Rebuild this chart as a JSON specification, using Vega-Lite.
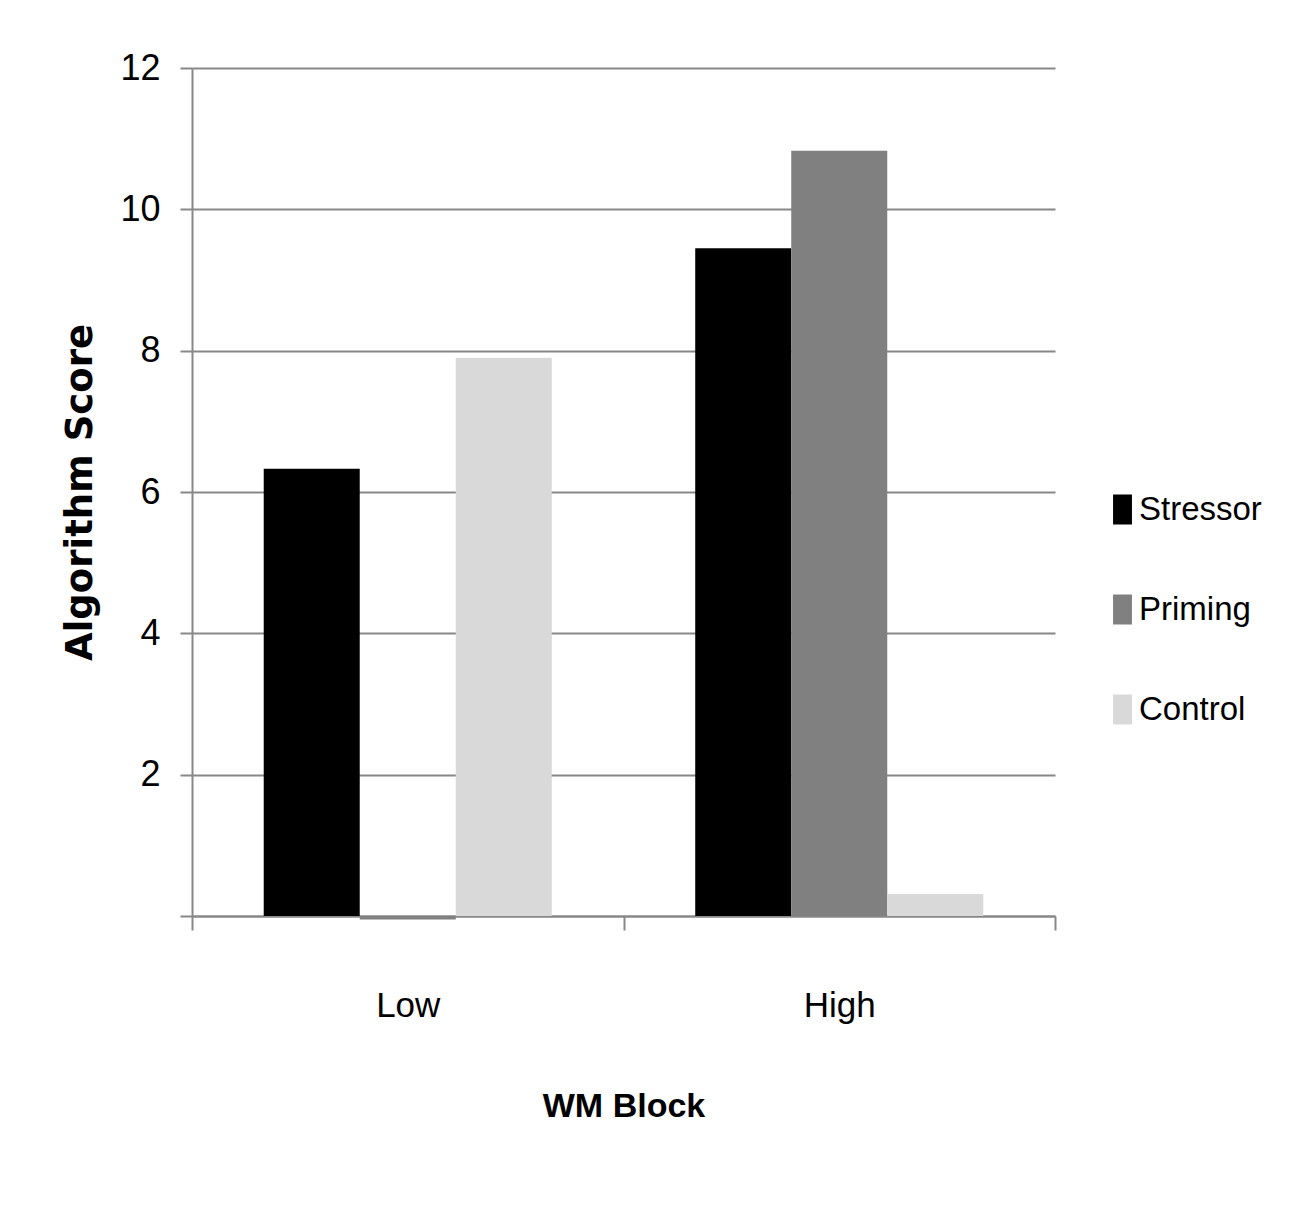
{
  "$schema": "https://vega.github.io/schema/vega-lite/v6.json",
  "autosize": {"type": "none"},
  "padding": {"left": 192, "top": 68, "right": 241, "bottom": 298},
  "width": 863,
  "height": 848,
  "background": "white",
  "data": {
    "values": [
      {"block": "Low", "group": "Stressor", "score": 6.33},
      {"block": "Low", "group": "Priming", "score": -0.05},
      {"block": "Low", "group": "Control", "score": 7.9},
      {"block": "High", "group": "Stressor", "score": 9.45},
      {"block": "High", "group": "Priming", "score": 10.83},
      {"block": "High", "group": "Control", "score": 0.31}
    ]
  },
  "mark": {"type": "bar"},
  "encoding": {
    "x": {
      "field": "block",
      "type": "nominal",
      "sort": ["Low", "High"],
      "scale": {"paddingInner": 0, "paddingOuter": 0},
      "axis": {
        "title": "WM Block",
        "labelAngle": 0,
        "tickBand": "extent",
        "tickSize": 14,
        "tickWidth": 2,
        "tickColor": "#888888",
        "domainColor": "#888888",
        "domainWidth": 2,
        "labelPadding": 58,
        "titlePadding": 66,
        "labelFontSize": 35,
        "titleFontSize": 34,
        "titleFontWeight": "bold",
        "labelFont": "Liberation Sans, sans-serif",
        "titleFont": "Liberation Sans, sans-serif",
        "labelColor": "#000000",
        "titleColor": "#000000"
      }
    },
    "xOffset": {
      "field": "group",
      "type": "nominal",
      "sort": ["Stressor", "Priming", "Control"],
      "scale": {"paddingInner": 0, "paddingOuter": 0.747}
    },
    "y": {
      "field": "score",
      "type": "quantitative",
      "scale": {"domain": [0, 12], "nice": false, "zero": false},
      "axis": {
        "title": "Algorithm Score",
        "values": [0, 2, 4, 6, 8, 10, 12],
        "labelExpr": "datum.value == 0 ? '' : datum.label",
        "tickSize": 12,
        "tickWidth": 2,
        "tickColor": "#888888",
        "domainColor": "#888888",
        "domainWidth": 2,
        "gridColor": "#888888",
        "gridWidth": 2,
        "labelPadding": 20,
        "titlePadding": 20,
        "labelFontSize": 36,
        "titleFontSize": 37,
        "titleFontWeight": "bold",
        "labelFont": "Liberation Sans, sans-serif",
        "titleFont": "DejaVu Sans, sans-serif",
        "labelColor": "#000000",
        "titleColor": "#000000"
      }
    },
    "color": {
      "field": "group",
      "type": "nominal",
      "sort": ["Stressor", "Priming", "Control"],
      "scale": {
        "domain": ["Stressor", "Priming", "Control"],
        "range": ["#000000", "#808080", "#d9d9d9"]
      },
      "legend": {
        "title": null,
        "orient": "none",
        "legendX": 914,
        "legendY": 425,
        "symbolType": "M-0.63,-1H0.63V1H-0.63Z",
        "symbolSize": 900,
        "symbolStrokeWidth": 0,
        "labelFontSize": 33,
        "labelFont": "Liberation Sans, sans-serif",
        "labelColor": "#000000",
        "labelOffset": 0,
        "rowPadding": 66
      }
    }
  },
  "config": {
    "view": {"stroke": null}
  }
}
